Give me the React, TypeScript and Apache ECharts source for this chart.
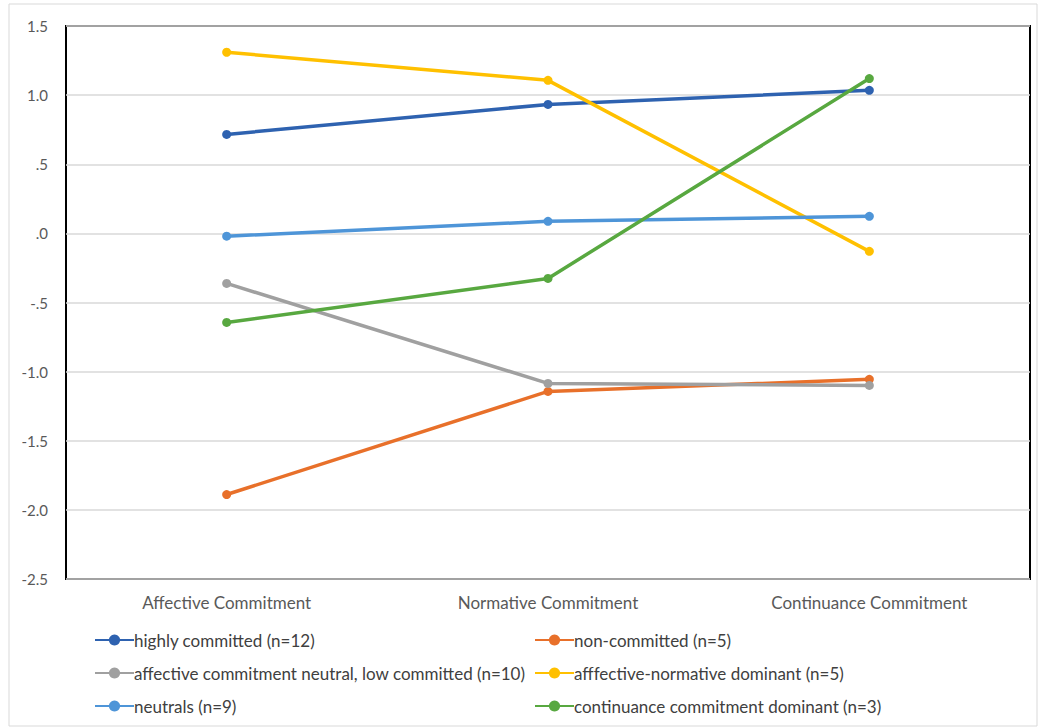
import React, { useEffect, useRef } from "react";
import * as echarts from "echarts";

const categories = ["Affective Commitment", "Normative Commitment", "Continuance Commitment"];
const seriesNames = [
  "highly committed (n=12)",
  "non-committed (n=5)",
  "affective commitment neutral, low committed (n=10)",
  "afffective-normative dominant (n=5)",
  "neutrals (n=9)",
  "continuance commitment dominant (n=3)",
];
const highlyCommitted = [0.716, 0.933, 1.035];
const nonCommitted = [-1.889, -1.143, -1.056];
const affectiveNeutral = [-0.362, -1.085, -1.1];
const affectiveNormative = [1.31, 1.107, -0.13];
const neutrals = [-0.02, 0.087, 0.123];
const continuanceDominant = [-0.644, -0.326, 1.12];
const seriesValues = [highlyCommitted, nonCommitted, affectiveNeutral, affectiveNormative, neutrals, continuanceDominant];
const seriesColors = ["#2E62B0", "#E8702A", "#A0A0A0", "#FFC000", "#4E95D8", "#58A840"];

const FONT = "Lato, 'Noto Sans', sans-serif";

export default function App() {
  const ref = useRef<HTMLDivElement>(null);
  useEffect(() => {
    document.body.style.margin = "0";
    const chart = echarts.init(ref.current!, null, { renderer: "svg" });
    const legendItem = (name: string) => ({ name });
    const legendText = { fontSize: 17, lineHeight: 20, color: "#404040", fontFamily: FONT, padding: [0, 0, 0, -5] };
    chart.setOption({
      animation: false,
      backgroundColor: "#fff",
      textStyle: { fontFamily: FONT },
      graphic: [
        {
          type: "rect",
          shape: { x: 9, y: 4, width: 1028, height: 722 },
          style: { fill: "none", stroke: "#d9d9d9", lineWidth: 1 },
          silent: true,
        },
      ],
      grid: {
        left: 66,
        top: 26,
        right: 8,
        bottom: 149,
        show: true,
        borderColor: "#000",
        borderWidth: 2,
        backgroundColor: "transparent",
      },
      legend: [
        {
          orient: "vertical",
          left: 94,
          top: 630,
          padding: 0,
          itemWidth: 39,
          itemHeight: 14,
          itemGap: 13,
          data: [seriesNames[0], seriesNames[2], seriesNames[4]].map(legendItem),
          textStyle: legendText,
        },
        {
          orient: "vertical",
          left: 534,
          top: 630,
          padding: 0,
          itemWidth: 39,
          itemHeight: 14,
          itemGap: 13,
          data: [seriesNames[1], seriesNames[3], seriesNames[5]].map(legendItem),
          textStyle: legendText,
        },
      ],
      xAxis: {
        type: "category",
        data: categories,
        boundaryGap: true,
        axisLine: { show: false },
        axisTick: { show: false },
        axisLabel: { color: "#595959", fontSize: 17, margin: 15, fontFamily: FONT },
      },
      yAxis: {
        type: "value",
        min: -2.5,
        max: 1.5,
        interval: 0.5,
        axisLine: { show: false },
        axisTick: { show: false },
        splitLine: { lineStyle: { color: "#d9d9d9", width: 1.5 } },
        axisLabel: {
          color: "#595959",
          fontSize: 15,
          margin: 18,
          fontFamily: FONT,
          formatter: (v: number) => v.toFixed(1).replace(/^(-?)0\./, "$1."),
        },
      },
      series: seriesNames.map((name, i) => ({
        name,
        type: "line",
        data: seriesValues[i],
        symbol: "circle",
        symbolSize: 9,
        lineStyle: { width: 3.5, color: seriesColors[i] },
        itemStyle: { color: seriesColors[i] },
        z: 2 + i,
      })),
    });
    return () => chart.dispose();
  }, []);
  return <div ref={ref} style={{ position: "absolute", left: 0, top: 0, width: 1038, height: 728 }} />;
}
